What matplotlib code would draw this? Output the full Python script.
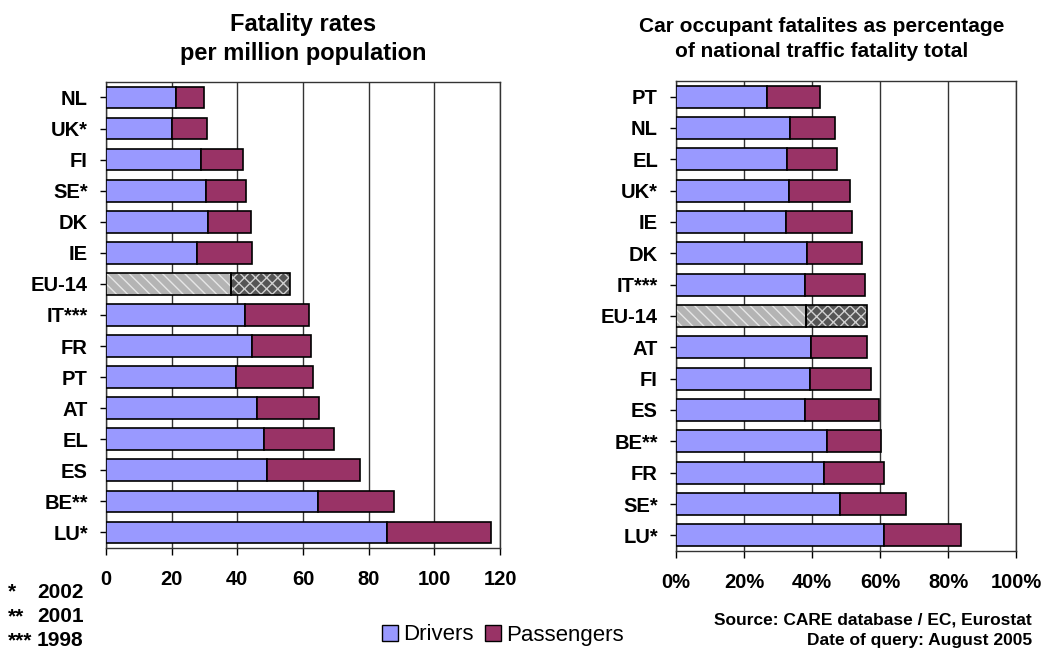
"""
Car occupant fatalities: rates per million population and share of
national traffic fatality total, drivers vs passengers.
"""

import matplotlib.pyplot as plt
from matplotlib.patches import Patch

plt.rcParams["font.family"] = ["Liberation Sans", "DejaVu Sans"]
plt.rcParams["hatch.linewidth"] = 1.0

COLOR_DRIVER = "#9999FF"
COLOR_PASSENGER = "#993366"
COLOR_EU_DRIVER = "#B4B4B4"
COLOR_EU_PASSENGER = "#555555"
COLOR_GRID = "#333333"

# --- left chart: fatality rates per million population ---
rate_countries = ["NL", "UK*", "FI", "SE*", "DK", "IE", "EU-14", "IT***",
                  "FR", "PT", "AT", "EL", "ES", "BE**", "LU*"]
rate_drivers = [21.4, 20.2, 28.8, 30.5, 31.2, 27.8, 38.2, 42.2,
                44.4, 39.6, 45.9, 48.0, 49.1, 64.7, 85.7]
rate_totals = [29.9, 30.9, 41.8, 42.6, 44.1, 44.4, 56.1, 61.9,
               62.3, 62.9, 64.9, 69.3, 77.4, 87.7, 117.3]
rate_ticks = [0, 20, 40, 60, 80, 100, 120]

# --- right chart: share of national traffic fatality total (%) ---
share_countries = ["PT", "NL", "EL", "UK*", "IE", "DK", "IT***", "EU-14",
                   "AT", "FI", "ES", "BE**", "FR", "SE*", "LU*"]
share_drivers = [26.7, 33.4, 32.7, 33.3, 32.3, 38.5, 37.9, 38.1,
                 39.7, 39.4, 37.8, 44.5, 43.5, 48.3, 61.2]
share_totals = [42.4, 46.8, 47.4, 51.1, 51.6, 54.6, 55.6, 56.1,
                56.2, 57.2, 59.7, 60.4, 61.1, 67.7, 83.9]
share_ticks = [0, 20, 40, 60, 80, 100]

footnote_marks = ["*", "**", "***"]
footnote_years = ["2002", "2001", "1998"]


def draw_panel(ax, countries, drivers, totals, ticks, tick_fmt):
    pos = range(len(countries))
    passengers = [t - d for t, d in zip(totals, drivers)]
    for i, name in enumerate(countries):
        if name == "EU-14":
            # hatched grey bars: hatch in white, outline drawn on top
            ax.barh(i, drivers[i], height=0.7, color=COLOR_EU_DRIVER,
                    edgecolor="#E6E6E6", hatch="\\\\\\", linewidth=0, zorder=3)
            ax.barh(i, passengers[i], left=drivers[i], height=0.7,
                    color=COLOR_EU_PASSENGER, edgecolor="#D0D0D0",
                    hatch="xxx", linewidth=0, zorder=3)
            ax.barh(i, drivers[i], height=0.7, fill=False,
                    edgecolor="black", linewidth=1.2, zorder=4)
            ax.barh(i, passengers[i], left=drivers[i], height=0.7,
                    fill=False, edgecolor="black", linewidth=1.2, zorder=4)
        else:
            ax.barh(i, drivers[i], height=0.7, color=COLOR_DRIVER,
                    edgecolor="black", linewidth=1.2, zorder=3)
            ax.barh(i, passengers[i], left=drivers[i], height=0.7,
                    color=COLOR_PASSENGER, edgecolor="black",
                    linewidth=1.2, zorder=3)

    ax.set_ylim(len(countries) - 0.5, -0.5)
    ax.set_xlim(ticks[0], ticks[-1])
    ax.set_yticks(list(pos))
    ax.set_yticklabels(countries, fontsize=14.5, fontweight="bold")
    ax.set_xticks(ticks)
    ax.set_xticklabels([tick_fmt.format(t) for t in ticks],
                       fontsize=14.5, fontweight="bold")
    ax.tick_params(axis="x", direction="out", length=5, pad=11, width=1)
    ax.tick_params(axis="y", direction="out", length=4, pad=9, width=1)
    ax.xaxis.grid(True, color=COLOR_GRID, linewidth=1.0, zorder=0)
    ax.set_axisbelow(True)
    for spine in ax.spines.values():
        spine.set_color(COLOR_GRID)
        spine.set_linewidth(1.0)


def main():
    fig = plt.figure(figsize=(10.56, 6.51), dpi=100)
    fig.patch.set_facecolor("white")

    ax1 = fig.add_axes([0.1004, 0.1582, 0.3731, 0.716])
    ax2 = fig.add_axes([0.6402, 0.1536, 0.3220, 0.7220])

    draw_panel(ax1, rate_countries, rate_drivers, rate_totals,
               rate_ticks, "{}")
    draw_panel(ax2, share_countries, share_drivers, share_totals,
               share_ticks, "{}%")

    fig.text(303 / 1056, 1 - 39 / 651, "Fatality rates\nper million population",
             ha="center", va="center", fontsize=17, fontweight="bold",
             linespacing=1.3)
    fig.text(822 / 1056, 1 - 39 / 651,
             "Car occupant fatalites as percentage\nof national traffic fatality total",
             ha="center", va="center", fontsize=15, fontweight="bold",
             linespacing=1.4)

    # footnotes for years
    for k, (mark, year) in enumerate(zip(footnote_marks, footnote_years)):
        y = 1 - (592 + 24.5 * k) / 651
        fig.text(8 / 1056, y, mark, ha="left", va="center",
                 fontsize=15, fontweight="bold")
        fig.text(37 / 1056, y, year, ha="left", va="center",
                 fontsize=15, fontweight="bold")

    fig.text(1032 / 1056, 1 - 620 / 651, "Source: CARE database / EC, Eurostat",
             ha="right", va="center", fontsize=12.5, fontweight="bold")
    fig.text(1032 / 1056, 1 - 641 / 651, "Date of query: August 2005",
             ha="right", va="center", fontsize=12.5, fontweight="bold")

    handles = [
        Patch(facecolor=COLOR_DRIVER, edgecolor="black", label="Drivers"),
        Patch(facecolor=COLOR_PASSENGER, edgecolor="black", label="Passengers"),
    ]
    fig.legend(handles=handles, loc="center", bbox_to_anchor=(503 / 1056, 1 - 635 / 651),
               ncol=2, frameon=False, fontsize=16, handlelength=0.7,
               handleheight=0.7, handletextpad=0.25, columnspacing=0.5,
               borderaxespad=0)

    fig.savefig("out.png", dpi=100, facecolor="white")
    plt.close(fig)


if __name__ == "__main__":
    main()
